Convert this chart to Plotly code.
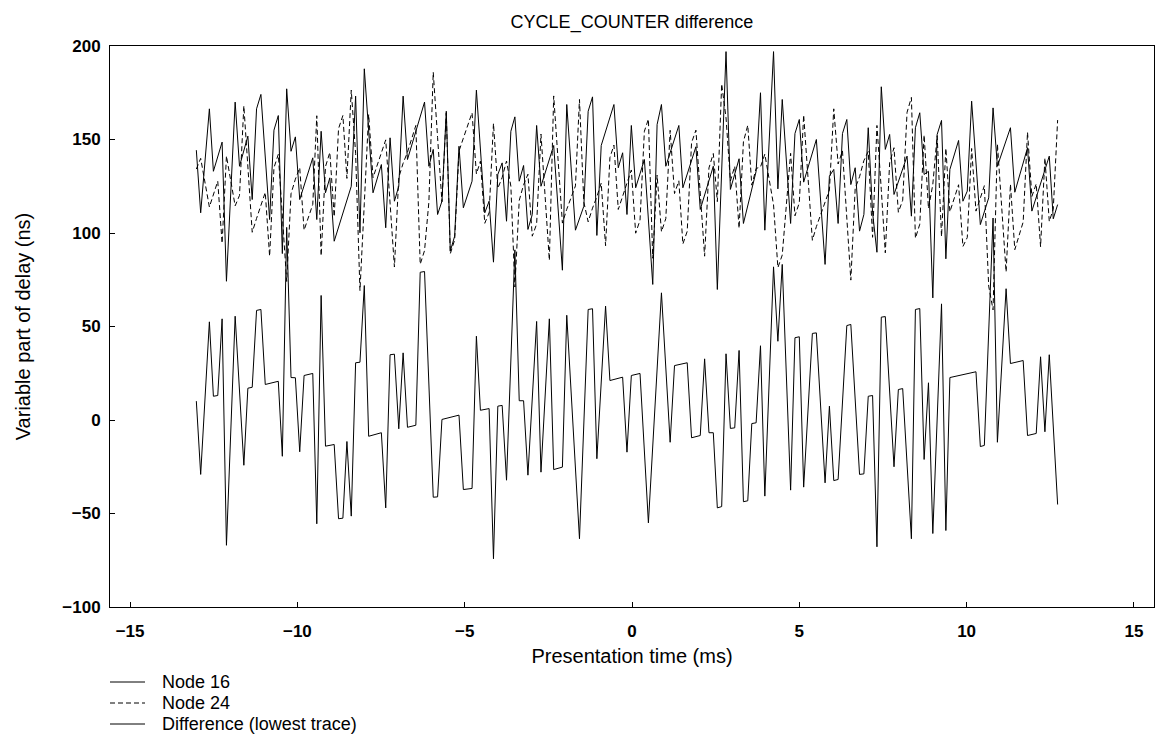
import plotly.graph_objects as go

# ---------------- data ----------------
# Node 16 (solid) : presentation time (ms) and variable delay (ns)
node16_t = [-13.02, -12.89, -12.63, -12.51, -12.25, -12.12, -11.86, -11.73, -11.48, -11.35,
            -11.22, -11.09, -10.83, -10.70, -10.57, -10.45, -10.32, -10.19, -10.06, -9.93,
            -9.54, -9.42, -9.29, -9.16, -9.03, -8.90, -8.39, -8.26, -8.13, -8.00,
            -7.74, -7.49, -7.36, -7.23, -7.10, -6.97, -6.84, -6.71, -6.20, -6.07,
            -5.94, -5.81, -5.68, -5.55, -5.43, -5.30, -5.17, -5.04, -4.78, -4.65,
            -4.40, -4.27, -4.14, -4.01, -3.88, -3.75, -3.62, -3.50, -3.37, -3.24,
            -3.11, -2.98, -2.85, -2.72, -2.34, -2.08, -1.95, -1.69, -1.44, -1.31,
            -1.18, -1.05, -0.92, -0.54, -0.41, -0.28, -0.15, -0.02, 0.11, 0.37,
            0.62, 0.75, 0.88, 1.01, 1.40, 1.52, 1.91, 2.04, 2.43, 2.55,
            2.81, 2.94, 3.20, 3.33, 3.71, 3.84, 3.97, 4.23, 4.36, 4.49,
            4.74, 4.87, 5.00, 5.13, 5.51, 5.77, 5.90, 6.03, 6.16, 6.29,
            6.42, 6.54, 6.67, 6.80, 6.93, 7.06, 7.19, 7.32, 7.45, 7.57,
            7.70, 7.83, 8.22, 8.35, 8.47, 8.60, 8.73, 8.86, 8.99, 9.12,
            9.25, 9.38, 9.50, 9.76, 9.89, 10.02, 10.15, 10.41, 10.66, 10.79,
            10.92, 11.31, 11.44, 11.82, 11.95, 12.47, 12.59, 12.72]
node16_ns = [144.3, 110.8, 166.4, 133.0, 148.6, 74.2, 170.0, 135.7, 151.8, 117.9,
             166.4, 174.1, 107.2, 155.0, 162.8, 89.0, 177.1, 143.7, 151.4, 117.9,
             140.2, 107.2, 154.4, 121.5, 129.5, 95.6, 125.0, 173.2, 100.1, 187.8,
             121.5, 136.6, 102.8, 150.9, 117.0, 125.0, 173.2, 139.3, 170.0, 135.7,
             144.7, 109.9, 117.0, 165.1, 90.3, 98.3, 146.4, 113.5, 127.7, 176.4,
             110.8, 117.0, 84.4, 131.3, 137.5, 106.3, 154.4, 162.1, 127.7, 136.1,
             101.9, 109.9, 157.5, 125.0, 146.8, 80.1, 168.7, 101.5, 114.3, 165.1,
             172.8, 98.7, 146.8, 168.7, 134.9, 142.9, 109.9, 157.5, 124.2, 139.3,
             72.5, 158.0, 168.7, 135.7, 157.5, 124.2, 146.1, 112.6, 135.7, 69.8,
             197.0, 123.3, 139.7, 105.1, 133.0, 175.0, 101.5, 197.0, 123.6, 171.4,
             105.1, 153.2, 160.7, 127.2, 150.0, 83.2, 130.4, 134.0, 105.1, 153.2,
             160.7, 125.9, 134.9, 101.0, 109.9, 156.3, 110.8, 89.7, 178.2, 144.7,
             152.7, 120.6, 141.1, 109.0, 156.3, 164.3, 131.3, 133.0, 65.3, 152.7,
             160.2, 86.2, 134.0, 149.5, 117.0, 122.4, 170.5, 104.5, 118.8, 166.9,
             135.7, 156.3, 121.8, 145.6, 111.7, 141.1, 107.6, 115.2]

# Node 24 (dashed)
node24_t = [-13.02, -12.89, -12.63, -12.51, -12.38, -12.25, -12.12, -11.86, -11.73, -11.60,
            -11.48, -11.35, -11.22, -11.09, -10.96, -10.83, -10.70, -10.57, -10.45, -10.32,
            -10.19, -10.06, -9.93, -9.80, -9.54, -9.42, -9.29, -9.16, -9.03, -8.90,
            -8.77, -8.64, -8.52, -8.39, -8.26, -8.13, -8.00, -7.87, -7.74, -7.49,
            -7.36, -7.23, -7.10, -6.97, -6.84, -6.71, -6.46, -6.33, -6.20, -6.07,
            -5.94, -5.81, -5.68, -5.55, -5.43, -5.30, -5.17, -5.04, -4.78, -4.65,
            -4.53, -4.40, -4.27, -4.14, -4.01, -3.88, -3.75, -3.62, -3.50, -3.37,
            -3.24, -3.11, -2.98, -2.85, -2.72, -2.47, -2.34, -2.08, -1.95, -1.69,
            -1.57, -1.44, -1.31, -1.18, -1.05, -0.92, -0.79, -0.66, -0.54, -0.41,
            -0.28, -0.15, -0.02, 0.11, 0.24, 0.37, 0.49, 0.62, 0.75, 0.88,
            1.01, 1.14, 1.27, 1.40, 1.52, 1.65, 1.78, 1.91, 2.04, 2.17,
            2.30, 2.43, 2.55, 2.68, 2.81, 2.94, 3.07, 3.20, 3.33, 3.46,
            3.58, 3.71, 3.84, 3.97, 4.23, 4.36, 4.49, 4.74, 4.87, 5.00,
            5.13, 5.39, 5.51, 5.77, 5.90, 6.03, 6.16, 6.29, 6.42, 6.54,
            6.67, 6.80, 6.93, 7.06, 7.19, 7.32, 7.45, 7.57, 7.70, 7.83,
            7.96, 8.09, 8.22, 8.35, 8.47, 8.60, 8.73, 8.86, 8.99, 9.12,
            9.25, 9.38, 9.50, 9.76, 9.89, 10.02, 10.15, 10.28, 10.41, 10.53,
            10.66, 10.79, 10.92, 11.18, 11.31, 11.44, 11.69, 11.82, 11.95, 12.08,
            12.21, 12.34, 12.47, 12.59, 12.72]
node24_ns = [134.2, 139.9, 113.9, 120.3, 127.7, 94.5, 141.2, 114.5, 120.1, 168.0,
             134.8, 100.4, 107.8, 115.0, 121.7, 87.6, 134.9, 142.1, 108.4, 74.1,
             121.0, 128.8, 134.9, 101.5, 115.3, 162.7, 87.8, 135.5, 143.1, 108.7,
             155.8, 162.8, 129.2, 176.4, 142.6, 69.2, 115.9, 163.4, 129.6, 143.4,
             149.8, 116.0, 81.8, 129.7, 137.3, 143.2, 157.5, 83.3, 90.6, 116.7,
             186.0, 151.0, 116.7, 164.2, 88.9, 96.3, 143.8, 150.7, 164.3, 131.6,
             138.4, 105.2, 110.9, 158.6, 123.9, 129.7, 138.5, 125.0, 71.1, 117.4,
             125.8, 131.4, 98.3, 104.8, 152.9, 85.4, 173.3, 105.3, 112.7, 125.2,
             171.4, 116.5, 106.0, 113.3, 119.4, 126.7, 93.2, 140.3, 147.0, 112.6,
             120.0, 127.1, 133.7, 99.9, 106.9, 154.4, 160.9, 86.5, 131.0, 100.7,
             107.7, 154.9, 121.1, 127.9, 94.1, 100.9, 148.3, 155.0, 120.9, 87.6,
             134.8, 142.5, 116.8, 179.7, 161.6, 127.8, 135.7, 102.5, 148.8, 157.6,
             125.6, 134.5, 135.3, 142.2, 115.1, 81.5, 88.2, 142.6, 109.2, 116.2,
             163.1, 96.1, 103.4, 116.8, 123.0, 166.4, 136.9, 143.9, 110.2, 74.8,
             123.9, 130.1, 138.7, 143.6, 97.7, 157.5, 123.2, 89.4, 137.6, 145.6,
             111.1, 117.5, 164.5, 172.5, 97.2, 104.7, 152.4, 113.1, 126.0, 152.0,
             98.1, 145.3, 111.3, 125.8, 92.8, 97.6, 145.2, 111.7, 118.7, 125.3,
             71.6, 58.9, 147.6, 79.2, 126.1, 91.1, 105.9, 153.9, 119.5, 126.3,
             92.6, 140.1, 106.2, 112.8, 160.4]

# Difference (lowest trace)
diff_t = [-13.02, -12.89, -12.63, -12.51, -12.38, -12.25, -12.12, -11.86, -11.60, -11.48,
          -11.35, -11.22, -11.09, -10.96, -10.57, -10.45, -10.32, -10.19, -10.06, -9.93,
          -9.80, -9.54, -9.42, -9.29, -9.16, -8.90, -8.77, -8.64, -8.52, -8.39,
          -8.26, -8.13, -8.00, -7.87, -7.49, -7.36, -7.23, -7.10, -6.97, -6.84,
          -6.71, -6.46, -6.33, -6.20, -5.94, -5.81, -5.68, -5.17, -5.04, -4.78,
          -4.65, -4.53, -4.27, -4.14, -4.01, -3.88, -3.75, -3.50, -3.37, -3.24,
          -3.11, -2.85, -2.72, -2.47, -2.34, -2.08, -1.95, -1.57, -1.31, -1.18,
          -1.05, -0.79, -0.66, -0.28, -0.15, -0.02, 0.24, 0.49, 0.88, 1.14,
          1.27, 1.65, 1.78, 2.04, 2.17, 2.30, 2.43, 2.55, 2.68, 2.81,
          2.94, 3.07, 3.20, 3.33, 3.46, 3.58, 3.71, 3.84, 3.97, 4.23,
          4.36, 4.49, 4.74, 4.87, 5.00, 5.13, 5.39, 5.51, 5.77, 5.90,
          6.03, 6.16, 6.42, 6.54, 6.80, 6.93, 7.06, 7.19, 7.32, 7.45,
          7.57, 7.83, 7.96, 8.09, 8.35, 8.47, 8.60, 8.73, 8.86, 8.99,
          9.25, 9.38, 9.50, 10.28, 10.41, 10.53, 10.79, 10.92, 11.18, 11.31,
          11.69, 11.82, 12.08, 12.21, 12.34, 12.47, 12.72]
diff_ns = [10.1, -29.1, 52.5, 12.7, 13.1, 54.1, -67.0, 55.5, -24.2, 17.0,
           17.5, 58.6, 59.1, 19.0, 20.7, -19.4, 103.0, 22.7, 22.6, -17.0,
           23.8, 24.9, -55.5, 66.6, -14.0, -13.1, -52.8, -52.5, -11.5, -51.4,
           30.6, 30.9, 71.9, -8.7, -6.8, -47.0, 34.9, 35.2, -4.7, 35.9,
           -3.9, -2.8, 79.0, 79.4, -41.3, -41.1, 0.3, 2.6, -37.2, -36.6,
           44.8, 5.2, 6.1, -74.2, 7.4, 7.8, -32.2, 91.0, 10.3, 10.3,
           -29.5, 52.7, -27.9, 54.1, -26.5, -25.2, 56.0, -63.5, 59.1, 59.5,
           -20.7, 60.9, 21.1, 22.9, -17.2, 23.8, 24.9, -55.0, 68.0, -11.9,
           29.1, 30.6, -9.5, -8.3, 32.7, -6.8, -6.8, -47.0, -46.3, 35.4,
           -4.5, -4.2, 37.2, -43.7, -43.2, -1.9, -1.5, 39.7, -40.7, 81.9,
           42.1, 83.2, -37.5, 44.0, 44.5, -35.9, 46.3, 46.6, -33.6, 7.4,
           -32.4, -31.8, 50.5, 51.1, -29.1, -28.8, 12.7, 13.1, -67.8, 55.0,
           55.3, -25.0, 16.3, 16.8, -63.5, 59.1, 59.6, -21.1, 19.9, -60.7,
           62.1, -59.1, 22.7, 25.8, -14.2, -13.6, 108.0, -11.9, 70.2, 30.2,
           31.8, -8.3, -7.2, 33.8, -6.3, 34.9, -45.2]

x_ticks = [-15, -10, -5, 0, 5, 10, 15]
y_ticks = [-100, -50, 0, 50, 100, 150, 200]

series_names = ["Node 16", "Node 24", "Difference (lowest trace)"]
series_dash = ["solid", "5px,3px", "solid"]

FONT = "Liberation Sans, Arial, Helvetica, sans-serif"

fig = go.Figure()
for t, v, name, dash in zip([node16_t, node24_t, diff_t], [node16_ns, node24_ns, diff_ns],
                            series_names, series_dash):
    fig.add_trace(go.Scatter(x=t, y=v, mode="lines", name=name,
                             line=dict(color="black", width=1, dash=dash)))

axis_common = dict(showline=True, linecolor="black", linewidth=1, mirror=True,
                   showgrid=False, zeroline=False, ticks="inside", ticklen=5,
                   tickcolor="black",
                   tickfont=dict(family=FONT, size=17, color="black", weight="bold"))

# Legend below the plot, drawn as a key (sample line + label) in paper coordinates
PLOT_W = 1157 - 110 - 3
PLOT_H = 742 - 46 - 135
legend_rows_px = [682, 703, 724]
for name, dash, row in zip(series_names, series_dash, legend_rows_px):
    yp = (607 - row) / PLOT_H
    fig.add_shape(type="line", xref="paper", yref="paper",
                  x0=0, x1=35 / PLOT_W, y0=yp, y1=yp,
                  line=dict(color="black", width=1, dash=dash))
    fig.add_annotation(text=name, xref="paper", yref="paper", x=50 / PLOT_W, y=yp,
                       xanchor="left", yanchor="middle", showarrow=False,
                       font=dict(family=FONT, size=18, color="black"))

fig.update_layout(
    width=1157, height=742,
    margin=dict(l=110, r=3, t=46, b=135, autoexpand=False),
    paper_bgcolor="white", plot_bgcolor="white",
    font=dict(family=FONT, size=17, color="black"),
    showlegend=False,
    title=dict(text="CYCLE_COUNTER difference", x=632 / 1157, xanchor="center",
               y=1 - 22 / 742, yanchor="middle", font=dict(family=FONT, size=18, color="black")),
    xaxis=dict(range=[-15.6, 15.6], tickvals=x_ticks, ticklabelstandoff=9,
               title=dict(text="Presentation time (ms)", font=dict(family=FONT, size=20), standoff=8),
               **axis_common),
    yaxis=dict(range=[-100, 200], tickvals=y_ticks, ticklabelstandoff=5,
               title=dict(text="Variable part of delay (ns)", font=dict(family=FONT, size=20), standoff=26),
               **axis_common),
)

fig.write_html("out.html")
